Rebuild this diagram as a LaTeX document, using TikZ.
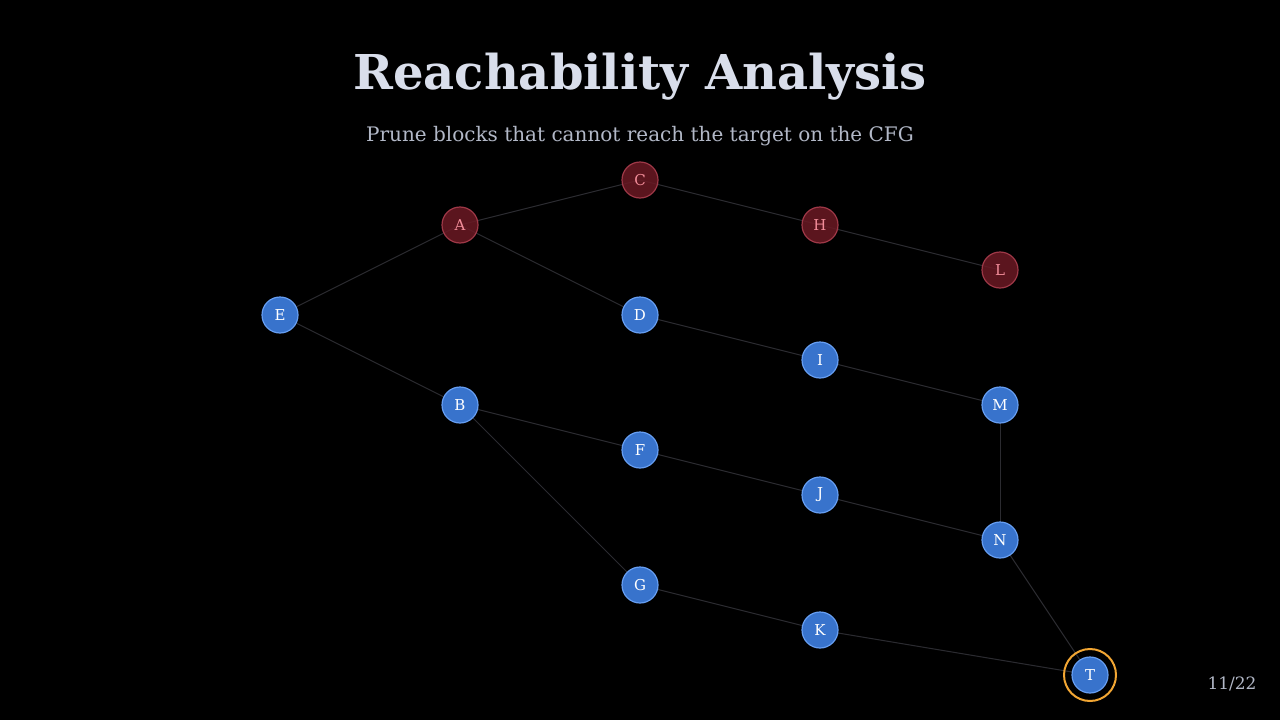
\documentclass[tikz,border=0pt]{standalone}
\usepackage{fontspec}
\setmainfont{DejaVu Serif}
\usetikzlibrary{backgrounds}
\definecolor{bluefill}{rgb}{0.22,0.45,0.80}
\definecolor{blueedge}{rgb}{0.40,0.62,0.95}
\definecolor{redfill}{rgb}{0.42,0.10,0.14}
\definecolor{rededge}{rgb}{0.62,0.22,0.28}
\definecolor{redtext}{rgb}{0.95,0.55,0.60}
\definecolor{edgegray}{rgb}{0.17,0.17,0.19}
\definecolor{titlecol}{rgb}{0.85,0.87,0.92}
\definecolor{subcol}{rgb}{0.70,0.72,0.78}
\definecolor{ringcol}{rgb}{0.95,0.65,0.20}
\tikzset{
  live/.style={circle, minimum size=36pt, inner sep=0pt, fill=bluefill, draw=blueedge, line width=1.2pt, text=white, font=\fontsize{15}{15}\selectfont},
  dead/.style={circle, minimum size=36pt, inner sep=0pt, fill=redfill, fill opacity=0.85, text opacity=1, draw=rededge, line width=1.2pt, text=redtext, font=\fontsize{15}{15}\selectfont},
  cfg/.style={draw=edgegray, line width=1pt}
}
\begin{document}
\begin{tikzpicture}[x=1pt, y=-1pt]
\useasboundingbox (0,0) rectangle (1280,720);
% title
\node[text=titlecol, font=\fontsize{48}{48}\selectfont\bfseries] (title) at (640,77) {Reachability Analysis};
\node[text=subcol, font=\fontsize{20}{20}\selectfont] (subtitle) at (640,136) {Prune blocks that cannot reach the target on the CFG};
% blocks
\node[live] (E) at (280,315) {E};
\node[dead] (A) at (460,225) {A};
\node[live] (B) at (460,405) {B};
\node[dead] (C) at (640,180) {C};
\node[live] (D) at (640,315) {D};
\node[live] (F) at (640,450) {F};
\node[live] (G) at (640,585) {G};
\node[dead] (H) at (820,225) {H};
\node[live] (I) at (820,360) {I};
\node[live] (J) at (820,495) {J};
\node[live] (K) at (820,630) {K};
\node[dead] (L) at (1000,270) {L};
\node[live] (M) at (1000,405) {M};
\node[live] (N) at (1000,540) {N};
\node[live] (T) at (1090,675) {T};
\draw[ringcol, line width=2pt] (T) circle (26pt);
% edges
\begin{scope}[on background layer]
\fill[black] (0,0) rectangle (1280,720);
\foreach \u/\v in {E/A,E/B,A/C,A/D,C/H,H/L,D/I,I/M,M/N,B/F,B/G,F/J,J/N,N/T,G/K,K/T}
  \draw[cfg] (\u.center) -- (\v.center);
\end{scope}
\node[text=subcol, font=\fontsize{17}{17}\selectfont] (page) at (1232,684) {11/22};
\end{tikzpicture}
\end{document}
